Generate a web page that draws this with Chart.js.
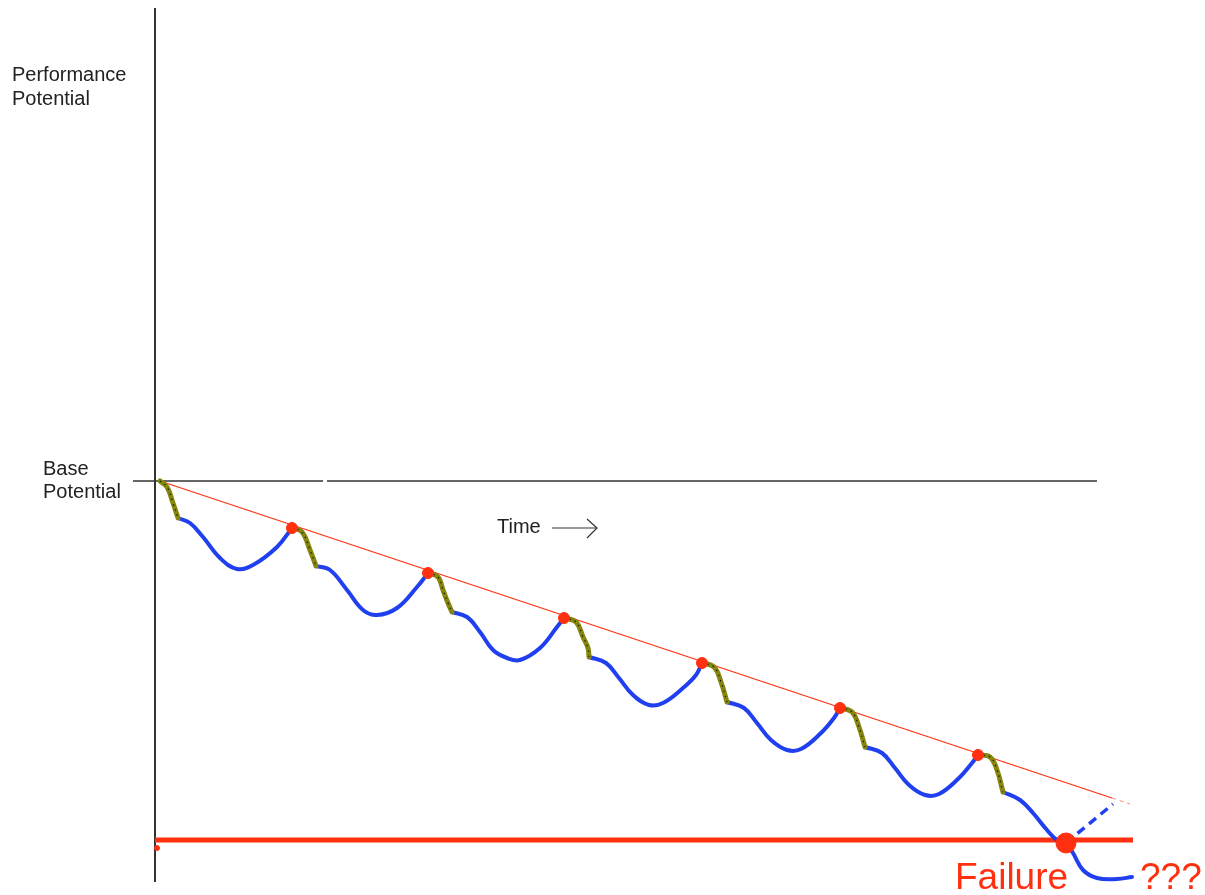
<!DOCTYPE html>
<html>
<head>
<meta charset="utf-8">
<script src="https://cdn.jsdelivr.net/npm/chart.js@4/dist/chart.umd.min.js"></script>
<style>
  html, body { margin: 0; padding: 0; background: #fff; }
  #wrap { position: relative; width: 1205px; height: 895px; }
</style>
</head>
<body>
<div id="wrap"><canvas id="fatigueChart"></canvas></div>
<script>
// Time runs from the vertical axis (0); performance 0 = failure threshold, 359 = base potential
const basePotential = 359;
const failureLevel = 0;
const timeEnd = 978;

// red dots where each recovery meets the decline line
const peaks = [[137, 312], [273, 267], [409, 222], [547, 177], [685, 132], [823, 85]];
const failurePoint = [911, -3];
const strayMark = [2, -8];

// thin red decline trend
const declineLine = [[5, 359], [957, 42]];
const declineTail = [[957, 42], [975, 36]];

// olive: sudden drop after each peak
const drops = [
  [[5, 359], [12, 353], [18, 337], [23, 322]],
  [[137, 312], [147, 308], [155, 290], [161, 274]],
  [[273, 267], [283, 263], [288, 250], [293, 237], [297, 228]],
  [[409, 222], [421, 218], [428, 203], [433, 192], [434, 183]],
  [[547, 177], [559, 173], [566, 158], [572, 138]],
  [[685, 132], [697, 128], [704, 113], [710, 93]],
  [[823, 85], [835, 83], [842, 70], [848, 48]]
];

// blue: dip and recovery in each cycle
const recoveries = [
  [[23, 322], [35, 317], [48, 303], [65, 282], [82, 271], [98, 275], [122, 293], [137, 312]],
  [[161, 274], [175, 270], [192, 250], [208, 230], [222, 225], [242, 232], [262, 253], [273, 267]],
  [[297, 228], [312, 223], [325, 208], [338, 190], [352, 182], [365, 180], [385, 192], [402, 213], [409, 222]],
  [[434, 183], [451, 177], [464, 162], [478, 145], [494, 135], [508, 137], [528, 152], [541, 165], [547, 177]],
  [[572, 138], [589, 132], [602, 117], [616, 100], [632, 90], [646, 91], [666, 107], [679, 122], [685, 132]],
  [[710, 93], [727, 87], [740, 72], [754, 55], [770, 45], [784, 46], [804, 62], [817, 77], [823, 85]],
  [[848, 48], [865, 40], [878, 27], [892, 10], [902, 0], [911, -3], [918, -13], [928, -30], [942, -38], [962, -39], [977, -37]]
];

// dashed blue: the hoped-for recovery after failure
const hopedRecovery = [[911, -3], [958, 36]];

// axes drawn as plain segments
const yAxisLine = [[0, -42], [0, 832]];
const baseLineParts = [[[-22, basePotential], [168, basePotential]], [[172, basePotential], [942, basePotential]]];
const timeArrow = [[[397, 312], [442, 312]], [[432, 321], [442, 312], [432, 302]]];

const BLUE = '#2040f0';
const OLIVE = '#86860f';
const RED = '#ff3010';
const INK = '#333333';

const toXY = pts => pts.map(p => ({ x: p[0], y: p[1] }));

function seg(pts, color, width, order, extra) {
  return Object.assign({
    data: toXY(pts),
    borderColor: color,
    borderWidth: width,
    pointRadius: 0,
    fill: false,
    order: order
  }, extra || {});
}

const datasets = [];
datasets.push(seg(yAxisLine, INK, 2, 90));
baseLineParts.forEach(p => datasets.push(seg(p, INK, 1.5, 90)));
timeArrow.forEach(p => datasets.push(seg(p, INK, 1.2, 90)));
datasets.push(seg([[0, failureLevel], [timeEnd, failureLevel]], RED, 5, 80));
datasets.push(seg(declineLine, RED, 1.3, 70));
datasets.push(seg(declineTail, 'rgba(255,60,30,0.6)', 1, 70, { borderDash: [4, 4] }));
recoveries.forEach(p => datasets.push(seg(p, BLUE, 4, 50, { tension: 0.4, borderCapStyle: 'round' })));
datasets.push(seg(hopedRecovery, BLUE, 3.5, 50, { borderDash: [9, 6] }));
drops.forEach(p => {
  datasets.push(seg(p, OLIVE, 5, 40, { tension: 0.4, borderCapStyle: 'round' }));
  datasets.push(seg(p, '#1a1a00', 1.2, 35, { tension: 0.4, borderDash: [1.5, 4] }));
});
datasets.push({
  type: 'scatter',
  data: toXY(peaks),
  backgroundColor: RED, borderColor: RED,
  pointRadius: 5.5, order: 10
});
datasets.push({
  type: 'scatter',
  data: toXY([failurePoint]),
  backgroundColor: RED, borderColor: RED,
  pointRadius: 10, order: 5
});
datasets.push({
  type: 'scatter',
  data: toXY([strayMark]),
  backgroundColor: RED, borderColor: RED,
  pointRadius: 2.5, order: 5
});

// labels placed by data coordinates
const textPlugin = {
  id: 'textLabels',
  afterDraw(chart) {
    const { ctx, scales } = chart;
    const X = v => scales.x.getPixelForValue(v);
    const Y = v => scales.y.getPixelForValue(v);
    ctx.save();
    ctx.textBaseline = 'middle';
    ctx.fillStyle = '#222';
    ctx.font = '20px "Liberation Sans", Arial, sans-serif';
    ctx.fillText('Performance', X(-143), Y(765));
    ctx.fillText('Potential', X(-143), Y(741));
    ctx.fillText('Base', X(-112), Y(371));
    ctx.fillText('Potential', X(-112), Y(348));
    ctx.fillText('Time', X(342), Y(313));
    ctx.fillStyle = RED;
    ctx.textBaseline = 'alphabetic';
    ctx.font = '37px "Liberation Sans", Arial, sans-serif';
    ctx.fillText('Failure', X(800), Y(-49));
    ctx.fillText('???', X(985), Y(-49));
    ctx.restore();
  }
};

new Chart(document.getElementById('fatigueChart'), {
  type: 'line',
  data: { datasets: datasets },
  options: {
    responsive: true,
    maintainAspectRatio: false,
    animation: false,
    layout: { padding: 0, autoPadding: false },
    plugins: { legend: { display: false }, tooltip: { enabled: false } },
    scales: {
      x: { type: 'linear', display: false, min: -155, max: 1050 },
      y: { type: 'linear', display: false, min: -55, max: 840 }
    }
  },
  plugins: [textPlugin]
});
</script>
</body>
</html>
